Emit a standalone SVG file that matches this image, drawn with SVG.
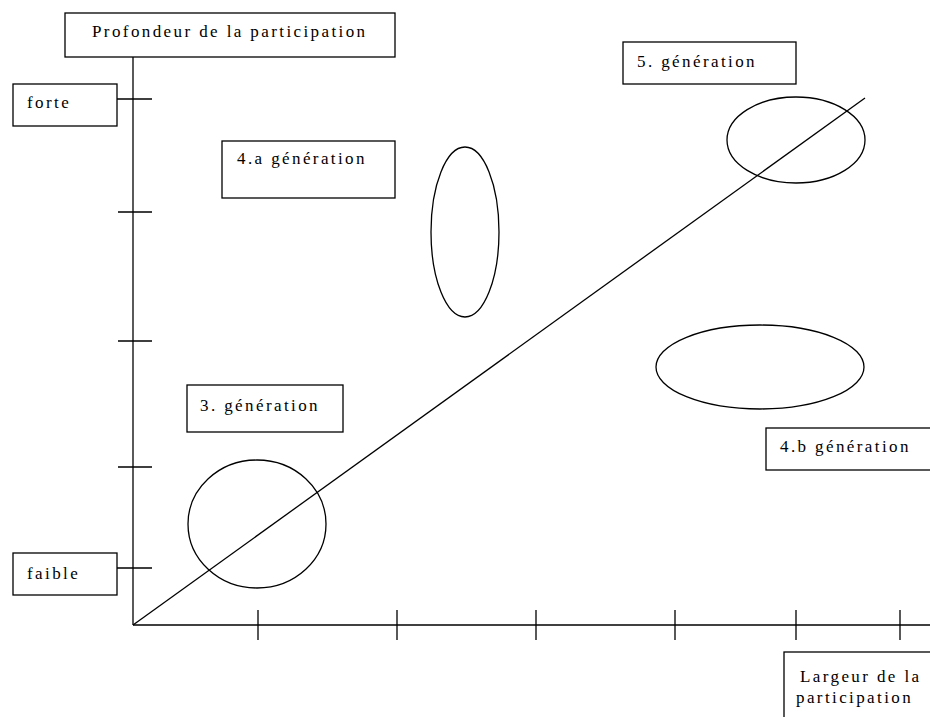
<svg xmlns="http://www.w3.org/2000/svg" width="930" height="717" viewBox="0 0 930 717">
<style>
.b{fill:#fff;stroke:#000;stroke-width:1.3}
.t{font-family:"Liberation Serif",serif;font-size:17px;letter-spacing:2.4px;fill:#000}
.l{stroke:#000;stroke-width:1.3;fill:none}
</style>
<rect width="930" height="717" fill="#fff"/>
<g id="connectors">
<line class="l" x1="133" y1="57" x2="133" y2="625"/>
<line class="l" x1="133" y1="625" x2="931" y2="625"/>
<line class="l" x1="133" y1="625" x2="865" y2="98"/>
<path class="l" d="M117 99H152M118 212H152M118 341H152M118 467H152M117 568H152"/>
<path class="l" d="M258 610V640M397 610V640M536 610V640M675 610V640M796 610V640M900 610V640"/>
</g>
<g id="axis-y"><rect class="b" x="65" y="13" width="330" height="44"/><text class="t" x="92" y="37">Profondeur de la participation</text></g>
<g id="forte"><rect class="b" x="13" y="84" width="104" height="42"/><text class="t" x="27" y="108">forte</text></g>
<g id="faible"><rect class="b" x="13" y="553" width="104" height="42"/><text class="t" x="27" y="579">faible</text></g>
<g id="gen4a"><rect class="b" x="222" y="141" width="173" height="57"/><text class="t" x="237" y="164">4.a génération</text></g>
<g id="gen5"><rect class="b" x="623" y="42" width="173" height="42"/><text class="t" x="637" y="67">5. génération</text></g>
<g id="gen3"><rect class="b" x="187" y="385" width="156" height="47"/><text class="t" x="200" y="411">3. génération</text></g>
<g id="gen4b"><rect class="b" x="766" y="428" width="170" height="42"/><text class="t" x="780" y="452">4.b génération</text></g>
<g id="axis-x"><rect class="b" x="784" y="652" width="160" height="80"/><text class="t" x="800" y="682">Largeur de la</text><text class="t" x="796" y="703">participation</text></g>
<g id="e4a"><ellipse class="l" cx="465" cy="232" rx="34" ry="85"/></g>
<g id="e5"><ellipse class="l" cx="796" cy="140" rx="69" ry="43"/></g>
<g id="e4b"><ellipse class="l" cx="760" cy="367" rx="104" ry="42"/></g>
<g id="e3"><ellipse class="l" cx="257" cy="524" rx="69" ry="64"/></g>
</svg>
